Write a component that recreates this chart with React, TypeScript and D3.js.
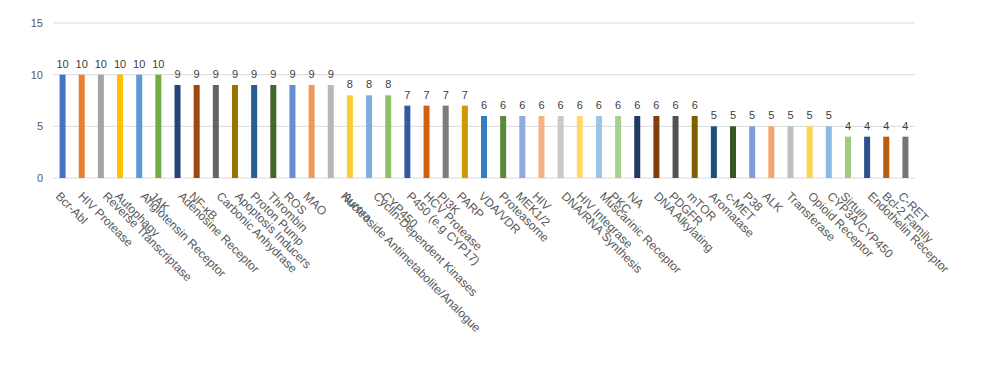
import React from 'react';
import * as d3 from 'd3';

const categories = [
  'Bcr-Abl', 'HIV Protease', 'Reverse Transcriptase', 'Autophagy', 'Angiotensin Receptor', 'JAK',
  'Adenosine Receptor', 'NF-κB', 'Carbonic Anhydrase', 'Apoptosis Inducers', 'Proton Pump', 'Thrombin',
  'ROS', 'MAO', 'Nucleoside Antimetabolite/Analogue', 'Aurora', 'Cyclin-Dependent Kinases', 'CYP450',
  'P450 (e.g CYP17)', 'HCV Protease', 'PI3K', 'PARP', 'VDA/VDR', 'Proteasome', 'MEK1/2', 'HIV',
  'DNA/RNA Synthesis', 'HIV Integrase', 'Muscarinic Receptor', 'PKC', 'NA', 'DNA Alkylating', 'PDGFR',
  'mTOR', 'Aromatase', 'c-MET', 'P38', 'ALK', 'Transferase', 'Opioid Receptor', 'CYP3A/CYP450',
  'Sirtuin', 'Endothelin Receptor', 'Bcl-2 Family', 'C-RET',
];

const values = [
  10, 10, 10, 10, 10, 10,
  9, 9, 9, 9, 9, 9, 9, 9, 9,
  8, 8, 8,
  7, 7, 7, 7,
  6, 6, 6, 6, 6, 6, 6, 6, 6, 6, 6, 6,
  5, 5, 5, 5, 5, 5, 5,
  4, 4, 4, 4,
];

const colors = [
  '#4472C4', '#ED7D31', '#A5A5A5', '#FFC000', '#5B9BD5', '#70AD47',
  '#264478', '#9E480E', '#636363', '#997300', '#255E91', '#43682B',
  '#698ED0', '#F1975A', '#B7B7B7', '#FFCD33', '#7CAFDD', '#8CC168',
  '#335AA1', '#D26012', '#7C7C7C', '#CC9A06', '#327DC2', '#5A8A39',
  '#8FAADC', '#F4B183', '#C9C9C9', '#FFD966', '#9DC3E6', '#A9D18E',
  '#203864', '#843C0C', '#525252', '#7F6000', '#1F4E79', '#375623',
  '#7F9FD9', '#F3A572', '#BFBFBF', '#FFD34F', '#8CB9E3', '#9DCB80',
  '#2D4F8E', '#B85B0E', '#747474',
];

const yTicks = [0, 5, 10, 15];

const FONT = "'Liberation Sans', Arial, sans-serif";
const LABEL_SIZE = 12;

function textWidth(t: string): number {
  const ctx = document.createElement('canvas').getContext('2d');
  if (!ctx) return t.length * 6.5;
  ctx.font = `${LABEL_SIZE}px ${FONT}`;
  return ctx.measureText(t).width;
}

export default function App() {
  const W = 981;
  const H = 378;
  const left = 53;
  const right = 915;
  const top = 23;
  const bottom = 178;

  const x = d3.scaleBand<string>()
    .domain(categories)
    .range([left, right])
    .paddingInner(0.687)
    .paddingOuter(0.3435);
  const y = d3.scaleLinear().domain([0, 15]).range([bottom, top]);
  const bw = x.bandwidth();

  return (
    <svg width={W} height={H} style={{ position: 'absolute', left: 0, top: 0, fontFamily: FONT }}>
      <rect width={W} height={H} fill="#fff" />
      {yTicks.map((t) => (
        <g key={t}>
          <line x1={left} x2={right} y1={y(t)} y2={y(t)} stroke="#d9d9d9" strokeWidth={1} />
          <text x={43} y={y(t)} dy="0.35em" textAnchor="end" fontSize={11} fill="#595959">{t}</text>
        </g>
      ))}
      {categories.map((c, i) => {
        const x0 = x(c) as number;
        const cx = x0 + bw / 2;
        return (
          <g key={c}>
            <rect x={x0} y={y(values[i])} width={bw} height={y(0) - y(values[i])} fill={colors[i]} />
            <text x={cx} y={y(values[i]) - 7} textAnchor="middle" fontSize={11} fill="#404040">{values[i]}</text>
          </g>
        );
      })}
      {categories.map((c) => {
        const cx = (x(c) as number) + bw / 2;
        const w = textWidth(c);
        const sx = cx - 3 + 0.11 * (w - 55);
        return (
          <text key={'l' + c} transform={`translate(${sx},194) rotate(45)`} dy="0.35em" fontSize={LABEL_SIZE} fill="#595959">{c}</text>
        );
      })}
    </svg>
  );
}
